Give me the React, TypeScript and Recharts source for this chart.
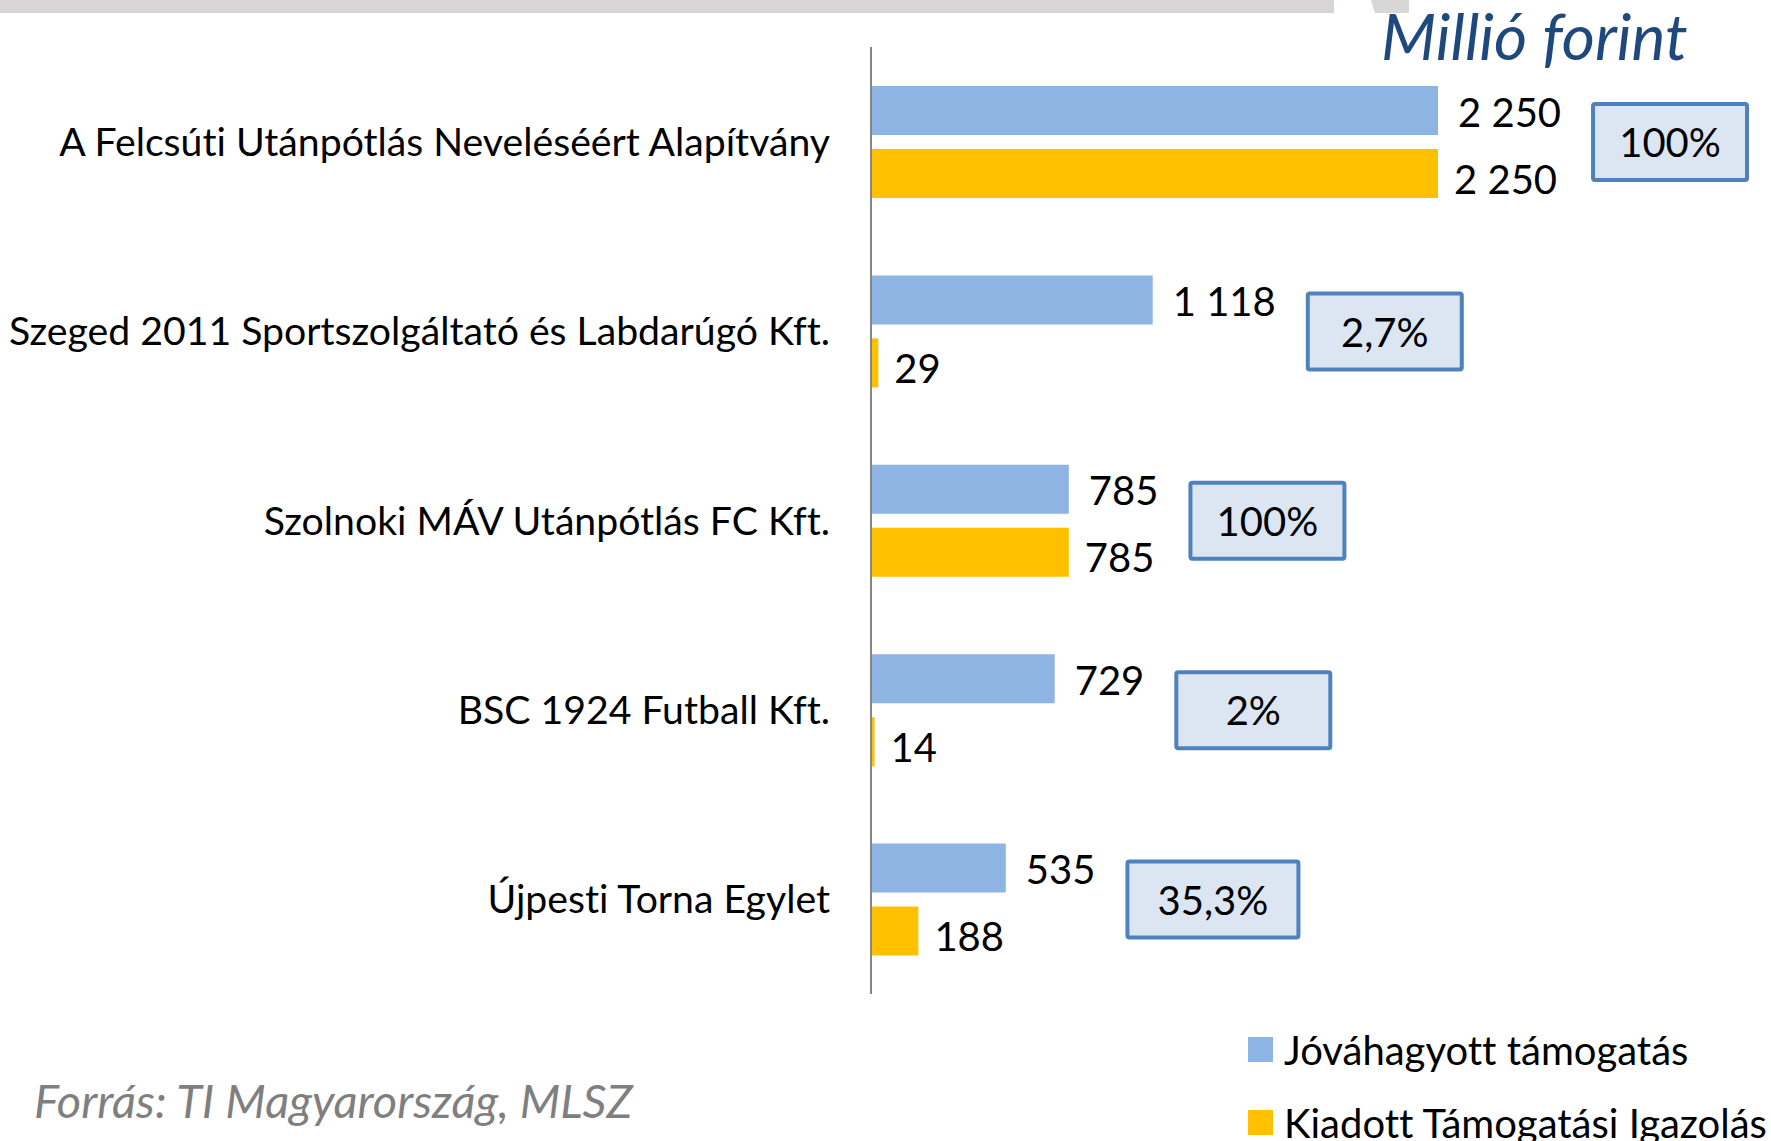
import React from 'react';
import { BarChart, Bar, XAxis, YAxis, LabelList } from 'recharts';

const categories = [
  'A Felcsúti Utánpótlás Neveléséért Alapítvány',
  'Szeged 2011 Sportszolgáltató és Labdarúgó Kft.',
  'Szolnoki MÁV Utánpótlás FC Kft.',
  'BSC 1924 Futball Kft.',
  'Újpesti Torna Egylet',
];
const approved = [2250, 1118, 785, 729, 535];
const issued = [2250, 29, 785, 14, 188];
const shares = ['100%', '2,7%', '100%', '2%', '35,3%'];
const seriesNames = ['Jóváhagyott támogatás', 'Kiadott Támogatási Igazolás'];

const data = categories.map((name, i) => ({ name, approved: approved[i], issued: issued[i] }));

const FONT = 'Lato, "Open Sans", sans-serif';
const FS = 40;
const CAT_FS = 39.2;
const BLUE = '#8EB4E3';
const GOLD = '#FFC000';
const noLig = { fontVariantLigatures: 'none' } as React.CSSProperties;

const fmt = (v: number) => String(v).replace(/\B(?=(\d{3})+(?!\d))/g, ' ');

let ctx: CanvasRenderingContext2D | null = null;
function textWidth(s: string) {
  if (!ctx) ctx = document.createElement('canvas').getContext('2d');
  if (!ctx) return s.length * FS * 0.5;
  ctx.font = `${FS}px ${FONT}`;
  return ctx.measureText(s).width;
}

function ApprovedLabel(props: any) {
  const { x, y, width, height, value, index } = props;
  const tx = x + width + 20;
  const cy = y + height / 2;
  const label = fmt(value);
  const bx = tx + textWidth(label) + 32;
  const pct = shares[index];
  const bw = pct.length > 4 ? 171 : 154;
  const by = y + height + 7;
  return (
    <g>
      <text x={tx} y={cy} dy="0.4em" fontSize={FS} fontFamily={FONT} fill="#000" style={noLig}>{label}</text>
      <rect x={bx} y={by - 38} width={bw} height={76} fill="#DCE6F2" stroke="#4F81BD" strokeWidth={4} rx={2} />
      <text x={bx + bw / 2} y={by} dy="0.38em" textAnchor="middle" fontSize={FS} fontFamily={FONT} fill="#000">{pct}</text>
    </g>
  );
}

function IssuedLabel(props: any) {
  const { x, y, width, height, value } = props;
  return (
    <text x={x + width + 16} y={y + height / 2} dy="0.5em" fontSize={FS} fontFamily={FONT} fill="#000">{fmt(value)}</text>
  );
}

function CatTick(props: any) {
  const { x, y, payload } = props;
  return (
    <text x={x} y={y} dy="0.36em" textAnchor="end" fontSize={CAT_FS} fontFamily={FONT} fill="#000" style={noLig}>{payload.value}</text>
  );
}

function LegendBox() {
  const colors = [BLUE, GOLD];
  return (
    <div style={{ position: 'absolute', left: 1248, top: 1013, width: 523, fontFamily: FONT, fontSize: FS, color: '#000', ...noLig }}>
      {seriesNames.map((label, i) => (
        <div key={label} style={{ display: 'flex', alignItems: 'center', height: 73 }}>
          <span style={{ width: 25, height: 25, background: colors[i], marginRight: 11, display: 'inline-block', flex: 'none' }} />
          <span style={{ whiteSpace: 'nowrap' }}>{label}</span>
        </div>
      ))}
    </div>
  );
}

export default function App() {
  return (
    <div style={{ position: 'absolute', left: 0, top: 0, width: 1771, height: 1141, background: '#fff', overflow: 'hidden' }}>
      <div style={{ position: 'absolute', left: 0, top: 0, width: 1334, height: 13, background: '#D8D6D7' }} />
      <div style={{ position: 'absolute', left: 1371, top: 0, width: 38, height: 13, background: '#D8D6D7', clipPath: 'polygon(0 0, 100% 0, 100% 100%, 10% 100%)' }} />
      <div style={{ position: 'absolute', left: 1381, top: -3, fontFamily: FONT, fontStyle: 'italic', fontSize: 64, color: '#1F497D', whiteSpace: 'nowrap', ...noLig }}>Millió forint</div>
      <div style={{ position: 'absolute', left: 34, top: 1072, fontFamily: FONT, fontStyle: 'italic', fontSize: 47, color: '#7F7F7F', whiteSpace: 'nowrap', ...noLig }}>Forrás: TI Magyarország, MLSZ</div>
      <BarChart
        width={1771}
        height={1141}
        data={data}
        layout="vertical"
        margin={{ top: 47, right: 144, bottom: 147, left: 0 }}
        barSize={49}
        barGap={14}
        style={{ position: 'absolute', left: 0, top: 0 }}
      >
        <XAxis type="number" domain={[0, 3000]} hide />
        <YAxis
          type="category"
          dataKey="name"
          width={871}
          axisLine={{ stroke: '#868686', strokeWidth: 2 }}
          tickLine={false}
          tickSize={0}
          tickMargin={41}
          tick={<CatTick />}
          interval={0}
        />
        <Bar dataKey="approved" name={seriesNames[0]} fill={BLUE} isAnimationActive={false}>
          <LabelList dataKey="approved" content={<ApprovedLabel />} />
        </Bar>
        <Bar dataKey="issued" name={seriesNames[1]} fill={GOLD} isAnimationActive={false}>
          <LabelList dataKey="issued" content={<IssuedLabel />} />
        </Bar>
      </BarChart>
      <LegendBox />
    </div>
  );
}
